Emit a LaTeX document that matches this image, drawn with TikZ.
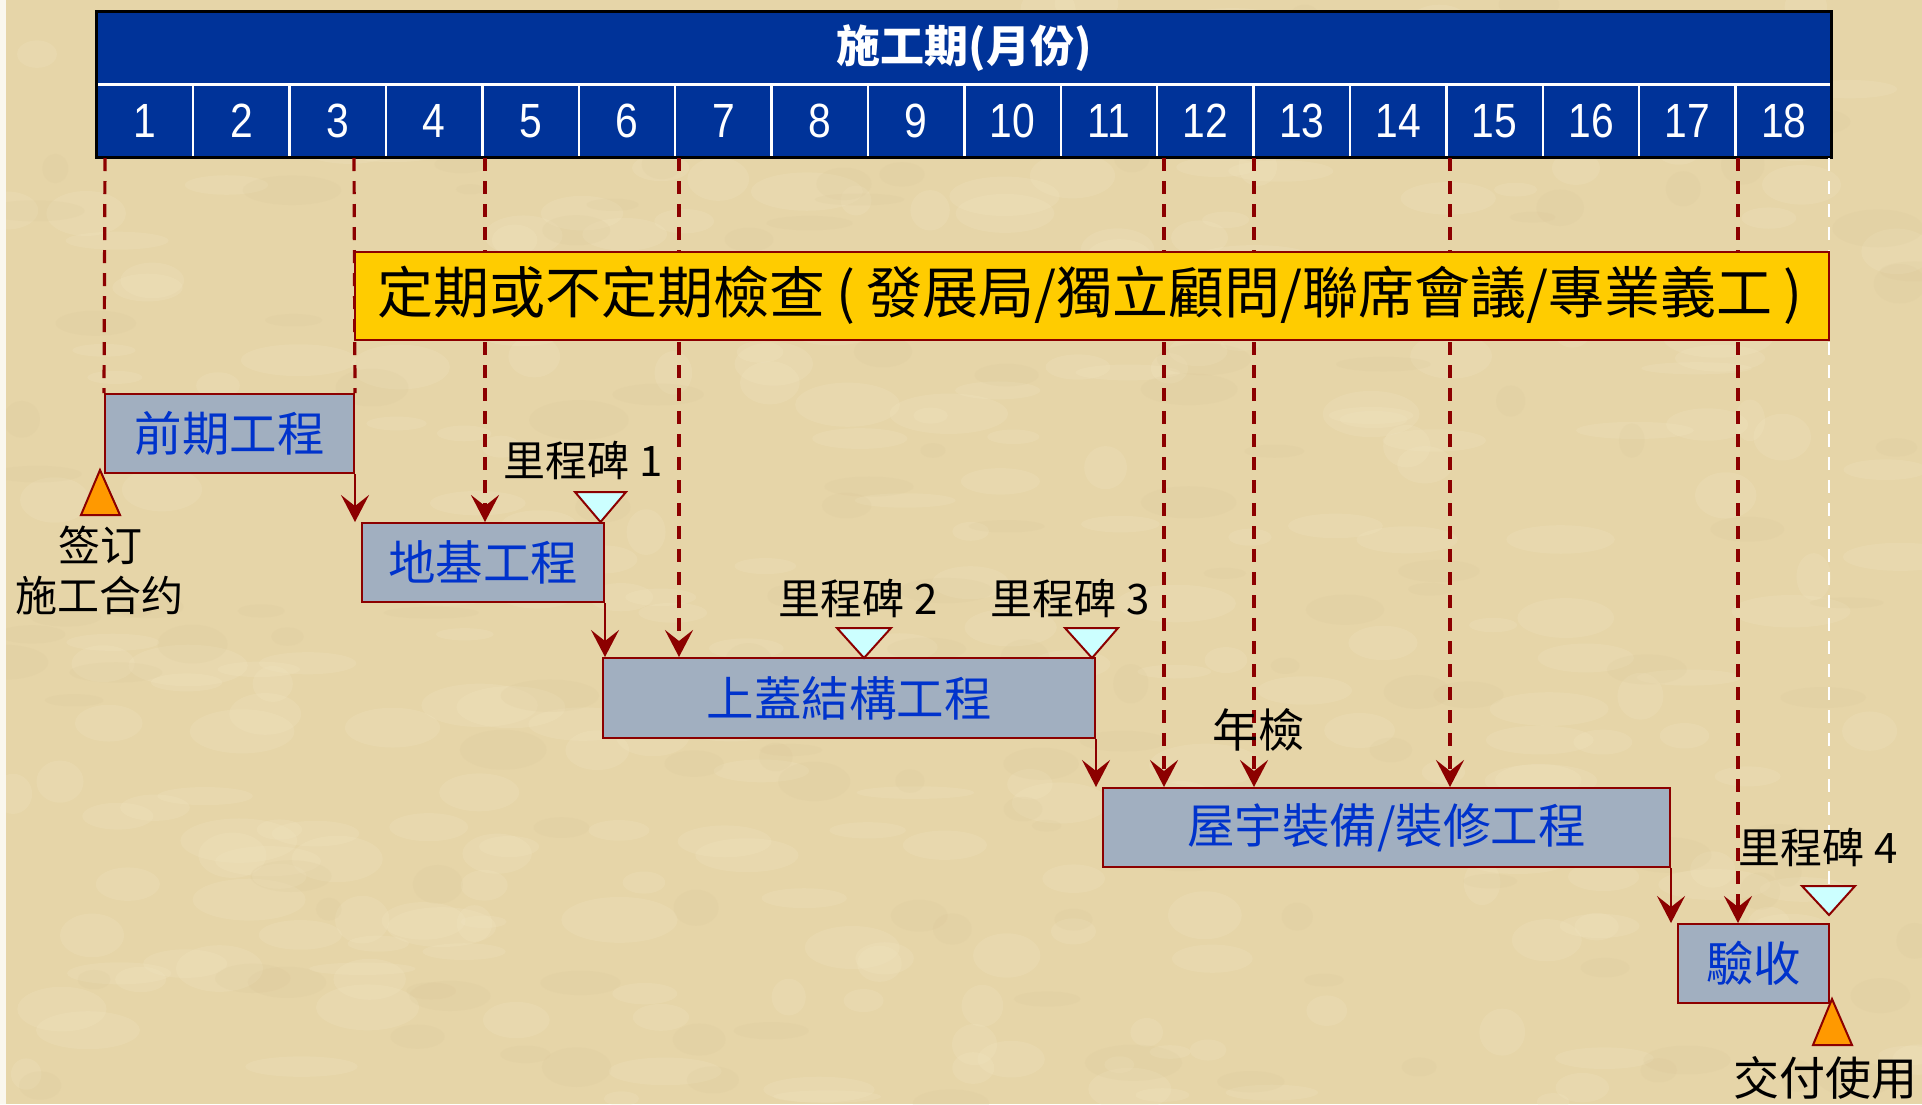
\documentclass[tikz,border=0pt]{standalone}
\usepackage{fontspec}
\setmainfont{Noto Sans CJK TC}
\newfontfamily\numfont[FakeStretch=0.85]{Liberation Sans}
\usetikzlibrary{arrows.meta}
\definecolor{bg}{RGB}{230,213,168}
\definecolor{bglight}{RGB}{242,230,196}
\definecolor{bgdark}{RGB}{216,196,150}
\definecolor{hdrblue}{RGB}{0,51,153}
\definecolor{dred}{RGB}{140,0,0}
\definecolor{boxfill}{RGB}{161,175,192}
\definecolor{boxtext}{RGB}{0,51,204}
\definecolor{ylw}{RGB}{255,204,0}
\definecolor{org}{RGB}{255,153,0}
\definecolor{cyn}{RGB}{204,255,255}
\begin{document}
\begin{tikzpicture}[x=0.5pt,y=-0.5pt,
  task/.style={draw=dred, line width=1pt, fill=boxfill, text=boxtext,
    font=\fontsize{23.75}{28}\selectfont, inner sep=0pt, minimum height=39.5pt},
  guide/.style={draw=dred, line width=1.6pt, dash pattern=on 6.5pt off 5pt},
  wguide/.style={draw=white, line width=1.4pt, dash pattern=on 6.5pt off 5pt},
  tip/.style={-{Stealth[length=13.5pt,width=14pt,inset=5.5pt]}},
  link/.style={draw=dred, line width=1pt},
  lbl/.style={text=black, inner sep=0pt, font=\fontsize{21}{25}\selectfont},
  biglbl/.style={text=black, inner sep=0pt, font=\fontsize{23}{27}\selectfont},
  ms/.style={draw=dred, line width=1pt, fill=cyn},
  evt/.style={draw=dred, line width=1pt, fill=org},
  month/.style={text=white, inner sep=0pt, font=\numfont\fontsize{24}{28}\selectfont},
]
\useasboundingbox (0,0) rectangle (1922,1104);
% background (parchment)
\fill[bg] (0,0) rectangle (1922,1104);
\begin{scope}
\clip (0,0) rectangle (1922,1104);
\pgfmathsetseed{7}
\foreach \k in {1,...,300} {
  \pgfmathsetmacro{\px}{rnd*1922}
  \pgfmathsetmacro{\py}{rnd*1104}
  \pgfmathsetmacro{\rx}{15+rnd*45}
  \pgfmathsetmacro{\ry}{6+rnd*18}
  \fill[bglight, opacity=0.22] (\px,\py) ellipse [x radius=\rx, y radius=\ry];
}
\foreach \k in {1,...,150} {
  \pgfmathsetmacro{\px}{rnd*1922}
  \pgfmathsetmacro{\py}{rnd*1104}
  \pgfmathsetmacro{\rx}{12+rnd*40}
  \pgfmathsetmacro{\ry}{5+rnd*15}
  \fill[bgdark, opacity=0.15] (\px,\py) ellipse [x radius=\rx, y radius=\ry];
}
\end{scope}
\fill[white!80!bg] (0,0) rectangle (6,1104);

% header
\fill[hdrblue] (96.8,11) rectangle (1831,157);
\draw[white, line width=1.5pt] (96.8,84.6) -- (1831,84.6);
\foreach \i in {1,...,17} {
  \draw[white, line width=1.2pt] ({96.8+96.4*\i},84.6) -- ({96.8+96.4*\i},157);
}
\draw[black, line width=1.5pt] (96.8,11) rectangle (1831,157);
\node[text=white, inner sep=0pt, font=\bfseries\fontsize{22}{26}\selectfont] (title) at (964,48) {施工期(月份)};
\foreach \i in {1,...,18} {
  \node[month] (m\i) at ({96.8+96.4*(\i-0.5)},121) {\i};
}

% guide start points at the header bottom
\coordinate (g1) at (105,158);
\coordinate (g2) at (354,158);
\coordinate (g3) at (485,158);
\coordinate (g4) at (679,158);
\coordinate (g5) at (1164,158);
\coordinate (g6) at (1254,158);
\coordinate (g7) at (1450,158);
\coordinate (g8) at (1738,158);
\coordinate (g9) at (1829,158);

% task boxes
\node[task, minimum width=124.5pt] (A) at (229.5,433.5) {前期工程};
\node[task, minimum width=121pt] (B) at (483,562.5) {地基工程};
\node[task, minimum width=246pt, minimum height=40pt] (C) at (849,698) {上蓋結構工程};
\node[task, minimum width=283.5pt] (D) at (1386.5,827.5) {屋宇裝備/裝修工程};
\node[task, minimum width=75.5pt] (E) at (1753.5,963.5) {驗收};

% dashed guides (behind the yellow bar)
\draw[guide] (g1) -- (A.north west);
\draw[guide] (g2) -- (A.north east);
\draw[guide, tip] (g3) -- (g3 |- B.north);
\draw[guide, tip] (g4) -- (g4 |- C.north);
\draw[guide, tip] (g5) -- (g5 |- D.north);
\draw[guide, tip] (g6) -- (g6 |- D.north);
\draw[guide, tip] (g7) -- (g7 |- D.north);
\draw[guide, tip] (g8) -- (g8 |- E.north);
\coordinate (m4top) at (1829,886);
\draw[wguide] (g9) -- (m4top);

% inspection bar
\node[draw=dred, line width=1pt, fill=ylw, inner sep=0pt, minimum width=737pt, minimum height=44pt] (Y) at (1091.5,295.5) {};
\node[text=black, inner sep=0pt, font=\fontsize{28}{32}\selectfont] (Ytext) at (1090,295.5) {定期或不定期檢查\hspace{0.2em}(\hspace{0.2em}發展局/獨立顧問/聯席會議/專業義工\hspace{0.2em})};

% solid links
\draw[link, tip] (A.south east) -- (A.south east |- B.north);
\draw[link, tip] (B.south east) -- (B.south east |- C.north);
\draw[link, tip] (C.south east) -- (C.south east |- D.north);
\draw[link, tip] (D.south east) -- (D.south east |- E.north);

% events (orange)
\filldraw[evt] (100,470) -- (120,515) -- (81,515) -- cycle;
\filldraw[evt] (1832,999) -- (1852,1045) -- (1813,1045) -- cycle;
% milestones (cyan)
\filldraw[ms] (575,492) -- (626,492) -- (600.5,522) -- cycle;
\filldraw[ms] (837,628) -- (891,628) -- (864,658) -- cycle;
\filldraw[ms] (1065,628) -- (1118,628) -- (1092,658) -- cycle;
\filldraw[ms] (1802,886) -- (1855,886) -- (1829,915) -- cycle;

% labels
\node[lbl, align=center] (sign) at (100,570) {签订\\施工合约};
\node[lbl] (ms1) at (583,460) {里程碑 1};
\node[lbl] (ms2) at (858,598) {里程碑 2};
\node[lbl] (ms3) at (1070,598) {里程碑 3};
\node[lbl] (ms4) at (1818,847) {里程碑 4};
\node[biglbl] (annual) at (1258,730) {年檢};
\node[biglbl] (handover) at (1825,1078) {交付使用};
\end{tikzpicture}
\end{document}
